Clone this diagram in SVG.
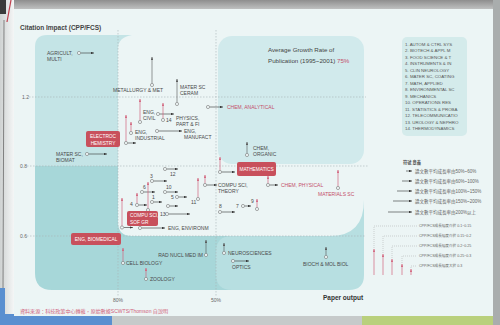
<svg xmlns="http://www.w3.org/2000/svg" width="500" height="325" viewBox="0 0 500 325">
<defs>
<linearGradient id="topg" x1="0" y1="0" x2="0" y2="1"><stop offset="0" stop-color="#8e8e8e"/><stop offset="1" stop-color="#c4c6c6"/></linearGradient>
<linearGradient id="leftg" x1="0" y1="0" x2="1" y2="0"><stop offset="0" stop-color="#cfd2d2"/><stop offset="1" stop-color="#f4f6f6"/></linearGradient>
<marker id="ad" viewBox="0 0 6 4" refX="5.5" refY="2" markerWidth="3.6" markerHeight="2.4" markerUnits="userSpaceOnUse" orient="auto"><path d="M0,0L6,2L0,4z" fill="#333"/></marker>
<marker id="ap" viewBox="0 0 6 4" refX="5.5" refY="2" markerWidth="3.6" markerHeight="2.4" markerUnits="userSpaceOnUse" orient="auto"><path d="M0,0L6,2L0,4z" fill="#d2667e"/></marker>
<marker id="ag" viewBox="0 0 6 4" refX="5.5" refY="2" markerWidth="3.6" markerHeight="2.4" markerUnits="userSpaceOnUse" orient="auto"><path d="M0,0L6,2L0,4z" fill="#555"/></marker>
<style>
text{font-family:"Liberation Sans","Noto Sans CJK TC",sans-serif;}
.lb{font-size:5px;fill:#4a4a4a;}
.pk{font-size:5px;fill:#c4506a;}
.ax{font-size:5px;fill:#666;}
.bt{font-size:4.8px;fill:#fff;}
.lg{font-size:4.4px;fill:#555;}
.zh{font-size:4.5px;fill:#666;}
.zs{font-size:3.6px;fill:#666;}
.h{stroke:#333;stroke-width:0.6;fill:none;marker-end:url(#ad);}
.vp{stroke:#d2667e;stroke-width:0.7;fill:none;marker-end:url(#ap);}
.vg{stroke:#555;stroke-width:0.6;fill:none;marker-end:url(#ag);}
.dl{stroke:#a9b3b5;stroke-width:0.6;stroke-dasharray:1.5 1.5;fill:none;}
.dt{stroke:#aaa;stroke-width:0.5;stroke-dasharray:1 1;fill:none;}
.nc{fill:#eef6f6;stroke:#777;stroke-width:0.6;}
.bd{fill:#c8505c;}
</style>
</defs>

<!-- photo surroundings -->
<rect x="0" y="0" width="500" height="325" fill="#c6caca"/>
<rect x="0" y="0" width="500" height="10" fill="url(#topg)"/>
<rect x="0" y="0" width="14" height="325" fill="url(#leftg)"/>
<rect x="0" y="0" width="6" height="14" fill="#3a3a3a"/>
<line x1="11" y1="0" x2="7" y2="22" stroke="#c0404e" stroke-width="1.2"/>
<line x1="4" y1="20" x2="3" y2="290" stroke="#6a6a6a" stroke-width="0.8"/>
<rect x="0" y="314" width="112" height="11" fill="#5a8fd0"/>
<rect x="0" y="288" width="5" height="37" fill="#5a8fd0"/>
<rect x="362" y="316" width="138" height="9" fill="#b9d07c"/>
<rect x="493" y="0" width="7" height="325" fill="#a9adad"/>

<!-- page -->
<rect x="14" y="9" width="479" height="307" fill="#ecf5f5"/>

<!-- shaded regions -->
<g id="regions">
<path d="M35,47 Q35,35 47,35 L118,35 L118,166 L35,166 Z" fill="#c4e4e6"/>
<path d="M118,35 L132,35 Q118,37 118,49 Z" fill="#c4e4e6"/>
<path d="M35,166 L118,166 L118,222 Q118,236 132,236 L232,236 L232,290 L52,290 Q35,290 35,273 Z" fill="#a7d7d9"/>
<path d="M216,252 Q216,236 232,236 L330,236 Q364,236 364,200 L364,275 Q364,290 349,290 L232,290 Q216,290 216,274 Z" fill="#b7dfe1"/>
<rect x="218" y="36" width="146" height="128" rx="14" fill="#d1eaec"/>
<rect x="402" y="37" width="65" height="99" rx="5" fill="#d4ebeb"/>
</g>

<!-- grid -->
<g id="grid">
<line class="dl" x1="118" y1="30" x2="118" y2="296"/>
<line class="dl" x1="216" y1="30" x2="216" y2="296"/>
<line class="dl" x1="29" y1="97" x2="366" y2="97"/>
<line class="dl" x1="27" y1="166" x2="368" y2="166"/>
<line class="dl" x1="27" y1="236" x2="366" y2="236"/>
</g>

<!-- axis texts -->
<g id="axes">
<text x="20" y="30" style="font-size:6.5px;font-weight:bold;fill:#444">Citation Impact (CPP/FCS)</text>
<text class="ax" x="22" y="99">1.2</text>
<text class="ax" x="20" y="168">0.8</text>
<text class="ax" x="20" y="238">0.6</text>
<text class="ax" x="118" y="302" text-anchor="middle">80%</text>
<text class="ax" x="216" y="302" text-anchor="middle">50%</text>
<text x="323" y="300" style="font-size:6.5px;font-weight:bold;fill:#333">Paper output</text>
<text x="268" y="52" style="font-size:6.2px;fill:#444">Average Growth Rate of</text>
<text x="268" y="63" style="font-size:6.2px;fill:#444">Publication (1995~2001) <tspan fill="#c4506a">75%</tspan></text>
<text x="20" y="313" style="font-size:5px;fill:#d0607a" textLength="148" lengthAdjust="spacingAndGlyphs">資料來源：科技政策中心轉載，原始數據SCWTS/Thomson 自說明</text>
</g>

<!-- connectors -->
<g id="connectors">
<line class="h" x1="80.6" y1="53" x2="94" y2="53"/>
<line class="h" x1="88.6" y1="154" x2="107" y2="154"/>
<line class="h" x1="209.6" y1="107" x2="223" y2="107"/>
<line class="h" x1="159.6" y1="114" x2="174" y2="114"/>
<line class="h" x1="158.6" y1="131" x2="182" y2="131"/>
<line class="h" x1="127.6" y1="143" x2="136" y2="143"/>
<line class="h" x1="221.6" y1="172" x2="235" y2="172"/>
<line class="h" x1="206.6" y1="185" x2="217" y2="185"/>
<line class="h" x1="269.6" y1="185" x2="278" y2="185"/>
<line class="h" x1="166.6" y1="169" x2="178" y2="169"/>
<line class="h" x1="153.6" y1="181" x2="167" y2="181"/>
<line class="h" x1="143.6" y1="192" x2="155" y2="192"/>
<line class="h" x1="166.6" y1="192" x2="178" y2="192"/>
<line class="h" x1="153.6" y1="202" x2="162" y2="202"/>
<line class="h" x1="178.6" y1="197" x2="187" y2="197"/>
<line class="h" x1="138.6" y1="205" x2="147" y2="205"/>
<line class="h" x1="169.6" y1="206" x2="178" y2="206"/>
<line class="h" x1="123.6" y1="227.5" x2="133" y2="227.5"/>
<line class="h" x1="168.6" y1="214" x2="190" y2="214"/>
<line class="h" x1="141.6" y1="228" x2="165" y2="228"/>
<line class="h" x1="221.6" y1="212" x2="235" y2="212"/>
<line class="h" x1="244.6" y1="206" x2="251" y2="206"/>
<line class="h" x1="234.6" y1="261" x2="249" y2="261"/>

<line class="vp" x1="140" y1="120.4" x2="140" y2="99"/>
<line class="vp" x1="163" y1="118.4" x2="163" y2="103"/>
<line class="vp" x1="131" y1="131.4" x2="131" y2="122"/>
<line class="vp" x1="126" y1="141.4" x2="126" y2="115"/>
<line class="vp" x1="220" y1="170.4" x2="220" y2="157"/>
<line class="vp" x1="205" y1="183.4" x2="205" y2="175"/>
<line class="vp" x1="268" y1="183.4" x2="268" y2="176"/>
<line class="vp" x1="198" y1="197.4" x2="198" y2="178"/>
<line class="vp" x1="148" y1="208.4" x2="148" y2="182"/>
<line class="vp" x1="137" y1="203.4" x2="137" y2="193"/>
<line class="vp" x1="122" y1="225.9" x2="122" y2="198"/>
<line class="vp" x1="338" y1="186.4" x2="338" y2="170"/>
<line class="vp" x1="257" y1="207.4" x2="257" y2="199"/>
<line class="vp" x1="123" y1="261.4" x2="123" y2="248"/>
<line class="vp" x1="146" y1="277.4" x2="146" y2="268"/>

<line class="vg" x1="152" y1="83.4" x2="152" y2="57"/>
<line class="vg" x1="177" y1="102.4" x2="177" y2="79"/>
<line class="vg" x1="247" y1="153.4" x2="247" y2="142"/>
<line class="vg" x1="206" y1="253.4" x2="206" y2="240"/>
<line class="vg" x1="224" y1="251.4" x2="224" y2="243"/>
<line class="vg" x1="326" y1="255.4" x2="326" y2="247"/>
</g>

<!-- nodes -->
<g id="n-agricult"><circle class="nc" cx="79" cy="53" r="1.6"/><text class="lb" x="47" y="55">AGRICULT,</text><text class="lb" x="47" y="61">MULTI</text></g>
<g id="n-metallurgy"><circle class="nc" cx="152" cy="85" r="1.6"/><text class="lb" x="113" y="92">METALLURGY &amp; MET</text></g>
<g id="n-ceram"><circle class="nc" cx="177" cy="104" r="1.6"/><text class="lb" x="180" y="89">MATER SC</text><text class="lb" x="180" y="95">CERAM</text></g>
<g id="n-chem-analytical"><circle class="nc" cx="208" cy="107" r="1.6"/><text class="pk" x="227" y="109">CHEM, ANALYTICAL</text></g>
<g id="n-eng-civil"><circle class="nc" cx="140" cy="122" r="1.6"/><text class="lb" x="143" y="114">ENG,</text><text class="lb" x="143" y="120">CIVIL</text></g>
<g id="n-14"><circle class="nc" cx="163" cy="120" r="1.6"/><text class="lb" x="166" y="122">14</text></g>
<g id="n-physics"><circle class="nc" cx="158" cy="114" r="1.6"/><text class="lb" x="176" y="120">PHYSICS,</text><text class="lb" x="176" y="126">PART &amp; FI</text></g>
<g id="n-eng-manufact"><circle class="nc" cx="157" cy="131" r="1.6"/><text class="lb" x="184" y="133">ENG,</text><text class="lb" x="184" y="139">MANUFACT</text></g>
<g id="n-eng-industrial"><circle class="nc" cx="131" cy="133" r="1.6"/><circle class="nc" cx="126" cy="143" r="1.6"/><text class="lb" x="135" y="134">ENG,</text><text class="lb" x="135" y="140">INDUSTRIAL</text></g>
<g id="n-electrochemistry"><rect class="bd" x="86" y="131" width="34" height="16" rx="2"/><text class="bt" x="103" y="138" text-anchor="middle">ELECTROC</text><text class="bt" x="103" y="145" text-anchor="middle">HEMISTRY</text></g>
<g id="n-biomat"><circle class="nc" cx="87" cy="154" r="1.6"/><text class="lb" x="56" y="156">MATER SC,</text><text class="lb" x="56" y="162">BIOMAT</text></g>
<g id="n-chem-organic"><circle class="nc" cx="247" cy="155" r="1.6"/><text class="lb" x="253" y="150">CHEM,</text><text class="lb" x="253" y="156">ORGANIC</text></g>
<g id="n-mathematics"><circle class="nc" cx="220" cy="172" r="1.6"/><rect class="bd" x="237" y="162" width="39" height="14" rx="2"/><text class="bt" x="256.5" y="171" text-anchor="middle">MATHEMATICS</text></g>
<g id="n-12"><circle class="nc" cx="165" cy="169" r="1.6"/><text class="lb" x="170" y="176">12</text></g>
<g id="n-3"><circle class="nc" cx="152" cy="181" r="1.6"/><text class="lb" x="150" y="178">3</text></g>
<g id="n-6"><circle class="nc" cx="142" cy="192" r="1.6"/><text class="lb" x="143" y="189">6</text></g>
<g id="n-10"><circle class="nc" cx="165" cy="192" r="1.6"/><text class="lb" x="166" y="189">10</text></g>
<g id="n-1"><circle class="nc" cx="152" cy="202" r="1.6"/><text class="lb" x="152" y="199">1</text></g>
<g id="n-5"><circle class="nc" cx="177" cy="197" r="1.6"/><text class="lb" x="171" y="199">5</text></g>
<g id="n-11"><circle class="nc" cx="198" cy="199" r="1.6"/><text class="lb" x="191" y="204">11</text></g>
<g id="n-4"><circle class="nc" cx="137" cy="205" r="1.6"/><text class="lb" x="130" y="206">4</text></g>
<g id="n-x"><circle class="nc" cx="168" cy="206" r="1.6"/></g>
<g id="n-y"><circle class="nc" cx="148" cy="210" r="1.6"/></g>
<g id="n-13"><circle class="nc" cx="167" cy="214" r="1.6"/><text class="lb" x="160" y="216">13</text></g>
<g id="n-compu-sof"><circle class="nc" cx="122" cy="227.5" r="1.6"/><rect class="bd" x="127" y="211" width="31" height="15" rx="2"/><text class="bt" x="130" y="217">COMPU SCI,</text><text class="bt" x="130" y="224">SOF GR</text></g>
<g id="n-eng-environ"><circle class="nc" cx="140" cy="228" r="1.6"/><text class="lb" x="168" y="230">ENG, ENVIRONM</text></g>
<g id="n-compu-theory"><circle class="nc" cx="205" cy="185" r="1.6"/><text class="lb" x="218" y="187">COMPU SCI,</text><text class="lb" x="218" y="193">THEORY</text></g>
<g id="n-chem-physical"><circle class="nc" cx="268" cy="185" r="1.6"/><text class="pk" x="281" y="187">CHEM, PHYSICAL</text></g>
<g id="n-materials"><circle class="nc" cx="338" cy="188" r="1.6"/><text class="pk" x="318" y="196">MATERIALS SC</text></g>
<g id="n-8"><circle class="nc" cx="220" cy="212" r="1.6"/><text class="lb" x="219" y="208">8</text></g>
<g id="n-7"><circle class="nc" cx="243" cy="206" r="1.6"/><text class="lb" x="236" y="208">7</text></g>
<g id="n-9"><circle class="nc" cx="257" cy="209" r="1.6"/><text class="lb" x="251" y="203">9</text></g>
<g id="n-eng-biomed"><rect class="bd" x="71" y="233" width="50" height="12" rx="2"/><text class="bt" x="96" y="241" text-anchor="middle">ENG, BIOMEDICAL</text></g>
<g id="n-rad"><circle class="nc" cx="206" cy="255" r="1.6"/><text class="lb" x="203" y="257" text-anchor="end">RAD NUCL MED IM</text></g>
<g id="n-neuro"><circle class="nc" cx="224" cy="253" r="1.6"/><text class="lb" x="228" y="255">NEUROSCIENCES</text></g>
<g id="n-optics"><circle class="nc" cx="233" cy="261" r="1.6"/><text class="lb" x="232" y="269">OPTICS</text></g>
<g id="n-bioch"><circle class="nc" cx="326" cy="257" r="1.6"/><text class="lb" x="303" y="266">BIOCH &amp; MOL BIOL</text></g>
<g id="n-cell"><circle class="nc" cx="123" cy="263" r="1.6"/><text class="lb" x="126" y="265">CELL BIOLOGY</text></g>
<g id="n-zoology"><circle class="nc" cx="146" cy="279" r="1.6"/><text class="lb" x="150" y="281">ZOOLOGY</text></g>

<!-- legend list -->
<g id="legend-list">
<text class="lg" x="405" y="45.5">1. AUTOM &amp; CTRL SYS</text>
<text class="lg" x="405" y="52">2. BIOTECH &amp; APPL M</text>
<text class="lg" x="405" y="58.5">3. FOOD SCIENCE &amp; T</text>
<text class="lg" x="405" y="65">4. INSTRUMENTS &amp; IN</text>
<text class="lg" x="405" y="71.5">5. CLIN NEUROLOGY</text>
<text class="lg" x="405" y="78">6. MATER SC, COATING</text>
<text class="lg" x="405" y="84.5">7. MATH, APPLIED</text>
<text class="lg" x="405" y="91">8. ENVIRONMENTAL SC</text>
<text class="lg" x="405" y="97.5">9. MECHANICS</text>
<text class="lg" x="405" y="104">10. OPERATIONS RES</text>
<text class="lg" x="405" y="110.5">11. STATISTICS &amp; PROBA</text>
<text class="lg" x="405" y="117">12. TELECOMMUNICATIO</text>
<text class="lg" x="405" y="123.5">13. UROLOGY &amp; NEPHRO</text>
<text class="lg" x="405" y="130">14. THERMODYNAMICS</text>
</g>

<!-- legend symbols -->
<g id="legend-growth">
<text x="403" y="163.5" style="font-size:4.2px;fill:#555;font-weight:bold">符號  意義</text>
<line class="h" x1="406" y1="171" x2="412" y2="171"/>
<line class="h" x1="402" y1="181" x2="412" y2="181"/>
<line class="h" x1="397" y1="191" x2="412" y2="191"/>
<line class="h" x1="393" y1="201" x2="412" y2="201"/>
<line class="h" x1="388" y1="212" x2="412" y2="212"/>
<text class="zh" x="415" y="172.5">論文數平均成長率由50%~60%</text>
<text class="zh" x="415" y="182.5">論文數平均成長率由60%~100%</text>
<text class="zh" x="415" y="192.5">論文數平均成長率由100%~150%</text>
<text class="zh" x="415" y="202.5">論文數平均成長率由150%~200%</text>
<text class="zh" x="415" y="213.5">論文數平均成長率由200%以上</text>
</g>
<g id="legend-impact">
<line class="vp" x1="374" y1="275" x2="374" y2="249"/>
<line class="vp" x1="383" y1="275" x2="383" y2="254"/>
<line class="vp" x1="392" y1="275" x2="392" y2="259"/>
<line class="vp" x1="402" y1="275" x2="402" y2="264"/>
<line class="vp" x1="411" y1="275" x2="411" y2="269"/>
<path class="dt" d="M374,248 V226 H417"/>
<path class="dt" d="M383,253 V236 H417"/>
<path class="dt" d="M392,258 V246 H417"/>
<path class="dt" d="M402,263 V256 H417"/>
<path class="dt" d="M411,268 V266 H417"/>
<text class="zs" x="419" y="227.3">CPP/FCS成長幅度介於 0.1~0.15</text>
<text class="zs" x="419" y="237.3">CPP/FCS成長幅度介於 0.15~0.2</text>
<text class="zs" x="419" y="247.3">CPP/FCS成長幅度介於 0.2~0.25</text>
<text class="zs" x="419" y="257.3">CPP/FCS成長幅度介於 0.25~0.3</text>
<text class="zs" x="419" y="267.3">CPP/FCS成長幅度大於 0.3</text>
</g>
</svg>
